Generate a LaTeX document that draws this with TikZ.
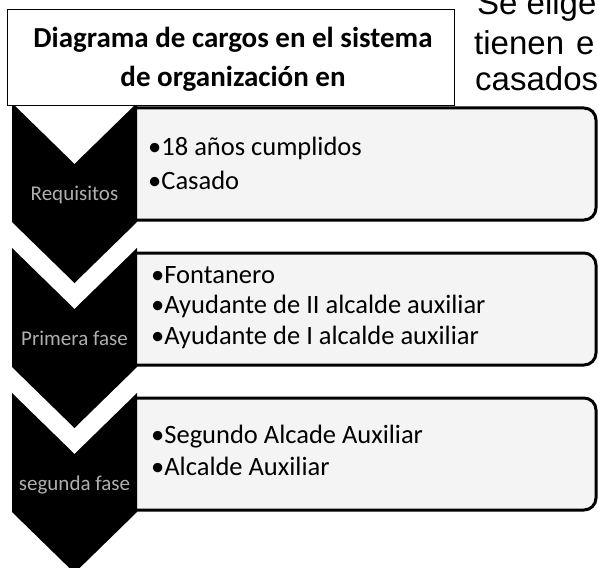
\documentclass[tikz,border=0pt]{standalone}
\usepackage{fontspec}
\setmainfont{Carlito}
\newfontfamily\arialf{Liberation Sans}
\definecolor{boxfill}{RGB}{244,244,244}
\definecolor{chevtext}{RGB}{175,175,175}
\tikzset{
  chev/.style={fill=black, draw=none},
  itembox/.style={draw=black, line width=3pt, fill=boxfill, rounded corners=12pt},
  item/.style={anchor=base west, inner sep=0pt, font=\fontsize{26.5}{26.5}\selectfont},
  chevlabel/.style={anchor=base, inner sep=0pt, text=chevtext, font=\fontsize{21}{21}\selectfont},
  titlebox/.style={draw=black, line width=1pt, fill=white},
  titletext/.style={anchor=base, inner sep=0pt, font=\fontsize{29}{29}\selectfont\bfseries},
  sidetext/.style={anchor=base west, inner sep=0pt, font=\arialf\fontsize{33}{33}\selectfont}
}
\begin{document}
\begin{tikzpicture}[x=1pt,y=-1pt]
\useasboundingbox (0,0) rectangle (599,567);
\clip (0,0) rectangle (599,567);
\fill[white] (0,0) rectangle (599,567);
% side text
\node[sidetext] (s1) at (477,15) {Se elige};
\node[sidetext] (s2) at (474,55) {tienen};
\node[sidetext] (s3) at (576,55) {e};
\node[sidetext] (s4) at (475,91) {casados};
% item boxes (left part hidden behind chevrons)
\begin{scope}
\clip (135,0) rectangle (610,567);
\draw[itembox] (100,108) rectangle (596,220);
\draw[itembox] (100,253) rectangle (596,365);
\draw[itembox] (100,398) rectangle (596,510);
\end{scope}
% chevrons
\foreach \T in {103,248,393}{
  \pgfmathsetmacro{\Ta}{\T+61}
  \pgfmathsetmacro{\Tb}{\T+119}
  \pgfmathsetmacro{\Tc}{\T+180}
  \fill[chev] (12,\T) -- (74.5,\Ta) -- (137,\T) -- (137,\Tb) -- (74.5,\Tc) -- (12,\Tb) -- cycle;
}
% title box
\draw[titlebox] (7.5,9.5) rectangle (454,106);
\node[titletext] (t1) at (233,48) {Diagrama de cargos en el sistema};
\node[titletext] (t2) at (233,87) {de organización en};
% chevron labels
\node[chevlabel] (c1) at (74.5,200) {Requisitos};
\node[chevlabel] (c2) at (74.5,345) {Primera fase};
\node[chevlabel] (c3) at (74.5,490) {segunda fase};
% items
\node[item] (i11) at (148,155) {•18 años cumplidos};
\node[item] (i12) at (148,189) {•Casado};
\node[item] (i21) at (151,283) {•Fontanero};
\node[item] (i22) at (151,313) {•Ayudante de II alcalde auxiliar};
\node[item] (i23) at (151,344) {•Ayudante de I alcalde auxiliar};
\node[item] (i31) at (151,443) {•Segundo Alcade Auxiliar};
\node[item] (i32) at (151,475) {•Alcalde Auxiliar};
\end{tikzpicture}
\end{document}
